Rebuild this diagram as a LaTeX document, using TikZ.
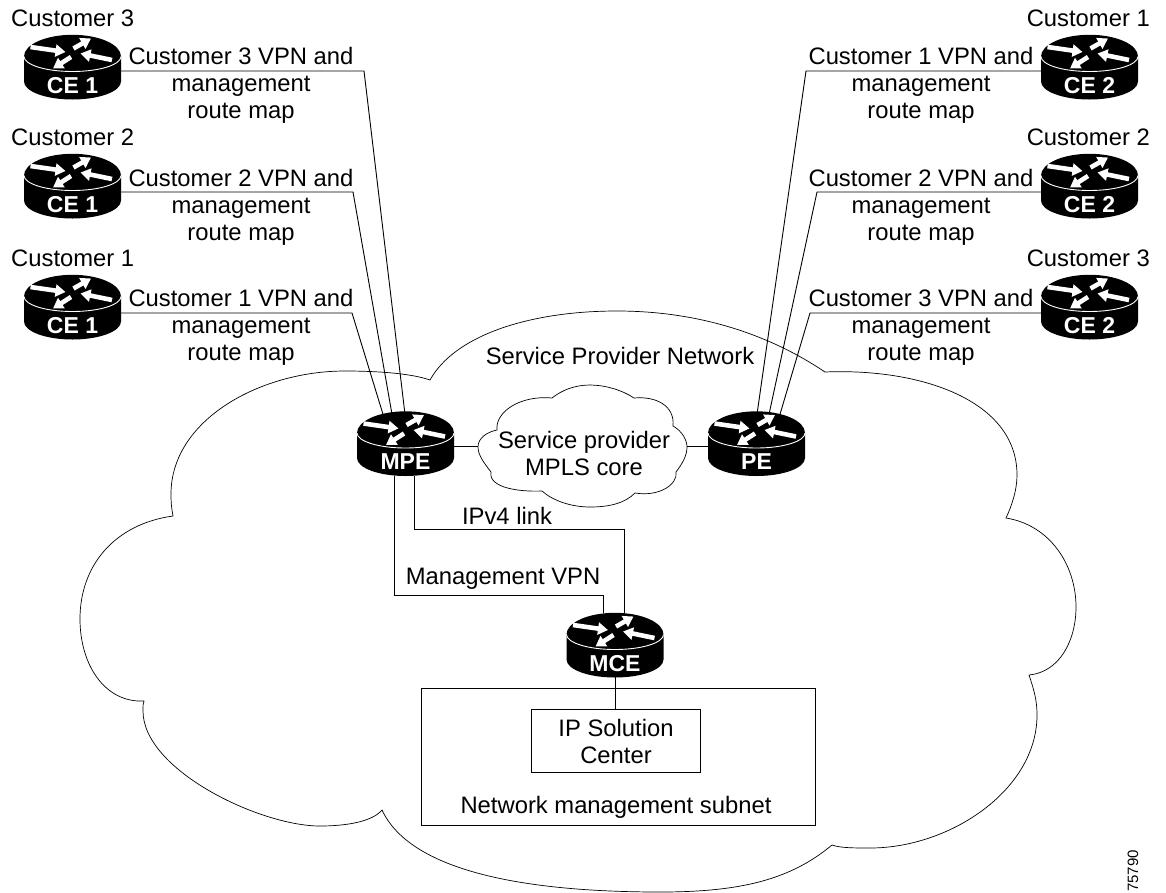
\documentclass[tikz,border=0pt]{standalone}
\usepackage{fontspec}
\setmainfont{Liberation Sans}
\usetikzlibrary{arrows.meta}
\tikzset{
	link/.style={line width=0.9pt,black},
	cloudline/.style={line width=0.7pt,black},
	txt/.style={inner sep=0pt,align=center,font=\fontsize{23.8}{27}\selectfont},
	routerbox/.style={inner sep=0pt,minimum width=97pt,minimum height=64pt},
	routertxt/.style={inner sep=0pt,white,font=\fontsize{23}{27}\selectfont\bfseries},
	subnetbox/.style={draw,line width=0.9pt,inner sep=0pt}
}
\newcommand{\routericon}[3]{% name, centre, label
	\node[routerbox] (#1) at (#2) {};
	\begin{scope}[shift={(#2)}]
		\fill (-48.5,-10.5) arc [start angle=180,end angle=360,x radius=48.5,y radius=21.7]
			-- (48.5,14.5) arc [start angle=0,end angle=180,x radius=48.5,y radius=18] -- cycle;
		\draw[white,line width=0.9pt] (-48.5,-10.5) arc [start angle=180,end angle=0,x radius=48.5,y radius=15];
		\foreach \xa/\ya/\xb/\yb in {-42/-20/-7/-15,1/-18.5/18.5/-28.5,39.5/-7/8/-13.5,-1.5/-10/-19.5/1.5}{% arrows
			\draw[white,line width=4.6pt,-{Triangle[width=12pt,length=10pt]}] (\xa,\ya) -- (\xb,\yb);
		}
	\end{scope}
	\node[routertxt,yshift=-18.5pt] (#1txt) at (#2) {#3};
}
\begin{document}
\begin{tikzpicture}[x=1pt,y=-1pt]
	\useasboundingbox (0,0) rectangle (1166,892);

	% service provider cloud
	\draw[cloudline] (430,380) .. controls (455,335) and (530,311) .. (617,311)
		.. controls (700,311) and (770,335) .. (825,372)
		.. controls (920,368) and (1017,400) .. (1017,475)
		.. controls (1017,490) and (1012,505) .. (1006,518)
		.. controls (1050,525) and (1076,565) .. (1076,607)
		.. controls (1076,640) and (1060,672) .. (1029,675)
		.. controls (1034,690) and (1037,700) .. (1037,715)
		.. controls (1037,790) and (950,848) .. (870,848)
		.. controls (855,848) and (840,848) .. (832,845)
		.. controls (790,880) and (740,892) .. (660,892)
		.. controls (520,892) and (410,870) .. (382,810)
		.. controls (372,822) and (345,826) .. (320,826)
		.. controls (260,826) and (143,770) .. (143,711)
		.. controls (143,706) and (143,703) .. (144,701)
		.. controls (105,703) and (80,665) .. (80,619)
		.. controls (80,565) and (115,524) .. (173,516)
		.. controls (171,505) and (171,500) .. (171,494)
		.. controls (171,420) and (260,371) .. (345,371)
		.. controls (375,371) and (410,373) .. (430,380) -- cycle;

	% mpls core cloud
	\draw[cloudline] (552,398) .. controls (562,390) and (575,385) .. (590,385)
		.. controls (605,385) and (622,390) .. (634,398)
		.. controls (655,396) and (675,405) .. (673,426)
		.. controls (682,431) and (687,440) .. (687,447)
		.. controls (687,456) and (682,464) .. (676,472)
		.. controls (678,484) and (660,497) .. (635,493)
		.. controls (625,503) and (610,507) .. (590,507)
		.. controls (570,507) and (552,500) .. (542,491)
		.. controls (520,492) and (488,488) .. (491,472)
		.. controls (484,463) and (478,455) .. (478,447)
		.. controls (478,438) and (487,432) .. (497,430)
		.. controls (495,412) and (520,395) .. (552,398) -- cycle;
	\coordinate (coreleft) at (478,446);
	\coordinate (coreright) at (687,446);

	% core routers
	\routericon{mpe}{405.5,443.5}{MPE}
	\routericon{pe}{756.5,443.5}{PE}
	\routericon{mce}{615,645}{MCE}

	% customer sites, left side
	\foreach \num/\ypos/\ylink/\ytxt/\ycust/\xbend/\xend in {
		3/67/71/85/18/364/-0.5,
		2/186/192/207/137/353/-13.5,
		1/307/313/327/258/352/-22.5}{% rows
		\routericon{cel\num}{72.5,\ypos}{CE 1}
		\node[txt,anchor=west] (custl\num) at (11,\ycust) {Customer \num};
		\node[txt] (mapl\num) at (241,\ytxt) {Customer \num{} VPN and\\management\\route map};
		\coordinate (bendl\num) at (\xbend,\ylink);
		\draw[link] (cel\num.east |- bendl\num) -- (bendl\num) -- ([xshift=\xend pt,yshift=-3pt]mpe.north);
	}

	% customer sites, right side
	\foreach \num/\ypos/\ylink/\ytxt/\ycust/\xbend/\xend in {
		1/67/71/85/18/806/0.5,
		2/186/192/207/137/817/12.5,
		3/307/313/327/258/810/23.5}{% rows
		\routericon{cer\num}{1089.5,\ypos}{CE 2}
		\node[txt,anchor=east] (custr\num) at (1150,\ycust) {Customer \num};
		\node[txt] (mapr\num) at (921,\ytxt) {Customer \num{} VPN and\\management\\route map};
		\coordinate (bendr\num) at (\xbend,\ylink);
		\draw[link] (cer\num.west |- bendr\num) -- (bendr\num) -- ([xshift=\xend pt,yshift=-3pt]pe.north);
	}

	% links round the core
	\draw[link] ([yshift=-2.5pt]mpe.east) -- (coreleft);
	\draw[link] (coreright) -- ([yshift=-2.5pt]pe.west);
	\coordinate (vpnleft) at (394,595);
	\coordinate (vpnright) at (603,595);
	\coordinate (ipleft) at (414,529);
	\coordinate (ipright) at (624,529);
	\draw[link] (mpe.south -| vpnleft) -- (vpnleft) -- (vpnright) -- (vpnright |- mce.north);
	\draw[link] (mpe.south -| ipleft) -- (ipleft) -- (ipright) -- (ipright |- mce.north);

	\node[subnetbox,minimum width=394pt,minimum height=137pt] (subnet) at (618,756.5) {};
	\node[subnetbox,minimum width=169pt,minimum height=63pt] (ipsc) at (615.5,740.5) {};
	\draw[link] (mce.south -| ipsc.north) -- (ipsc.north);

	\node[txt] (ipsctxt) at (616,741) {IP Solution\\Center};
	\node[txt] (subnettxt) at (616,807) {Network management subnet};
	\node[txt] (sptxt) at (620,356) {Service Provider Network};
	\node[txt] (coretxt) at (584,453) {Service provider\\MPLS core};
	\node[txt] (ipv4txt) at (507,516) {IPv4 link};
	\node[txt] (vpntxt) at (503,579) {Management VPN};
	\node[rotate=90,inner sep=0pt,font=\fontsize{15}{18}\selectfont] (figno) at (1133,871) {75790};
\end{tikzpicture}
\end{document}
